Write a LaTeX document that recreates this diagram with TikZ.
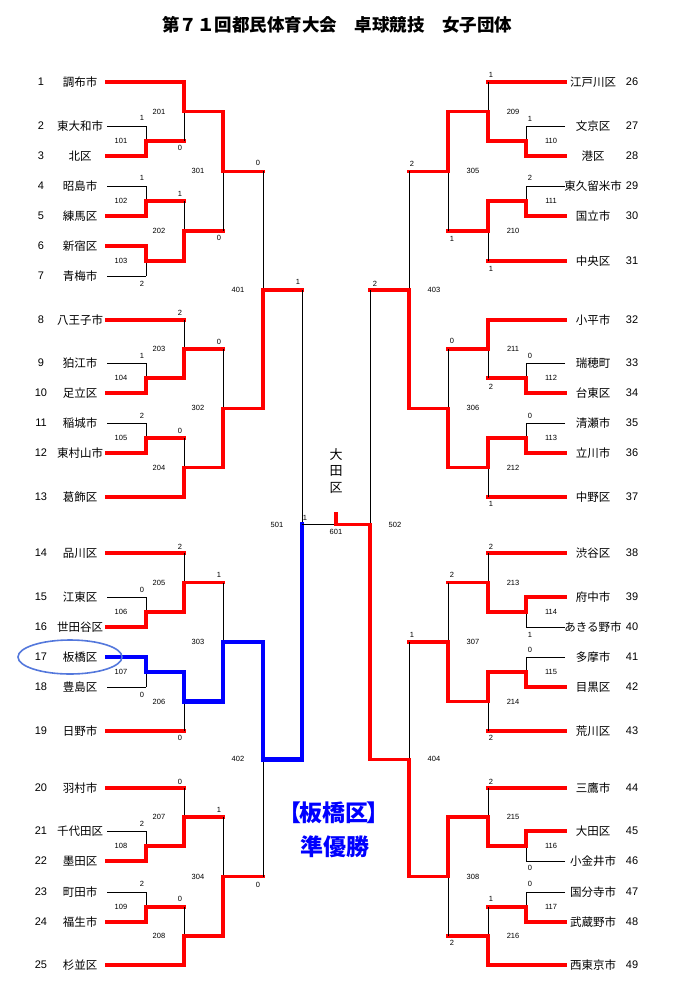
\documentclass[tikz,border=0pt]{standalone}
\usepackage{fontspec}
\setmainfont{Liberation Sans}
\newfontfamily\jpfont{Noto Sans CJK JP}
\usetikzlibrary{shapes.geometric}
\definecolor{ringblue}{RGB}{84,120,220}
\tikzstyle{win}=[draw=red,line width=3.5pt,line cap=rect]
\tikzstyle{lose}=[draw=black,line width=0.8pt]
\tikzstyle{itabashi}=[draw=blue,line width=4.5pt,line cap=rect]
\tikzstyle{team}=[font=\jpfont\fontsize{11.5}{13}\selectfont,inner sep=0pt]
\tikzstyle{num}=[font=\fontsize{11}{13}\selectfont,inner sep=0pt]
\tikzstyle{score}=[font=\fontsize{7.5}{9}\selectfont,inner sep=0pt]
\tikzstyle{banner}=[text=blue,font=\jpfont\bfseries\fontsize{23}{26}\selectfont,inner sep=0pt]

\begin{document}
\begin{tikzpicture}[x=1pt,y=-1pt]
  \useasboundingbox (0,0) rectangle (679,985);
  \def\lone{146}\def\ltwo{184}\def\lthree{223}\def\lfour{263}\def\lfive{302}
  \def\rone{526}\def\rtwo{488}\def\rthree{448}\def\rfour{409}\def\rfive{370}

  \node[font=\jpfont\bfseries\fontsize{17.5}{20}\selectfont] (title) at (337,25)
    {第７１回都民体育大会　卓球競技　女子団体};

  % teams, left half
  \foreach \i/\y/\s in {1/82/調布市, 2/126/東大和市, 3/156/北区, 4/186/昭島市,
      5/216/練馬区, 6/246/新宿区, 7/276/青梅市, 8/320/八王子市, 9/363/狛江市,
      10/393/足立区, 11/423/稲城市, 12/453/東村山市, 13/497/葛飾区,
      14/553/品川区, 15/597/江東区, 16/627/世田谷区, 17/657/板橋区,
      18/687/豊島区, 19/731/日野市, 20/788/羽村市, 21/831/千代田区,
      22/861/墨田区, 23/892/町田市, 24/922/福生市, 25/965/杉並区} {
    \node[num] (k\i) at (41,\y) {\i};
    \node[team] (n\i) at (80,\y) {\s};
    \coordinate (t\i) at (107,\y);
  }
  % teams, right half
  \foreach \i/\y/\s in {26/82/江戸川区, 27/126/文京区, 28/156/港区,
      29/186/東久留米市, 30/216/国立市, 31/261/中央区, 32/320/小平市,
      33/363/瑞穂町, 34/393/台東区, 35/423/清瀬市, 36/453/立川市,
      37/497/中野区, 38/553/渋谷区, 39/597/府中市, 40/627/あきる野市,
      41/657/多摩市, 42/687/目黒区, 43/731/荒川区, 44/788/三鷹市,
      45/831/大田区, 46/861/小金井市, 47/892/国分寺市, 48/922/武蔵野市,
      49/965/西東京市} {
    \node[num] (k\i) at (632,\y) {\i};
    \node[team] (n\i) at (593,\y) {\s};
    \coordinate (t\i) at (565,\y);
  }

  % match points
  \foreach \n/\x/\y in {101/\lone/141, 102/\lone/201, 103/\lone/261,
      104/\lone/378, 105/\lone/438, 106/\lone/612, 107/\lone/672,
      108/\lone/846, 109/\lone/907, 201/\ltwo/111.5, 202/\ltwo/231,
      203/\ltwo/349, 204/\ltwo/467.5, 205/\ltwo/582.5, 206/\ltwo/701.5,
      207/\ltwo/817, 208/\ltwo/936, 301/\lthree/171.25, 302/\lthree/408.25,
      303/\lthree/642, 304/\lthree/876.5, 401/\lfour/289.75,
      402/\lfour/759.25, 501/\lfive/524.5} {
    \coordinate (m\n) at (\x,\y);
    \node[score] (l\n) at (\x-25,\y) {\n};
  }
  \foreach \n/\x/\y in {110/\rone/141, 111/\rone/201, 112/\rone/378,
      113/\rone/438, 114/\rone/612, 115/\rone/672, 116/\rone/846,
      117/\rone/907, 209/\rtwo/111.5, 210/\rtwo/231, 211/\rtwo/349,
      212/\rtwo/467.5, 213/\rtwo/582.5, 214/\rtwo/701.5, 215/\rtwo/817,
      216/\rtwo/936, 305/\rthree/171.25, 306/\rthree/408.25,
      307/\rthree/642, 308/\rthree/876.5, 403/\rfour/289.75,
      404/\rfour/759.25, 502/\rfive/524.5} {
    \coordinate (m\n) at (\x,\y);
    \node[score] (l\n) at (\x+25,\y) {\n};
  }
  \coordinate (m601) at (336,524.5);
  \coordinate (crown) at (336,512);
  \node[score] (l601) at (336,532) {601};

  % bracket lines: source / match / horizontal / vertical
  \foreach \a/\b/\h/\v in {t2/m101/lose/lose, t3/m101/win/win,
      t4/m102/lose/lose, t5/m102/win/win, t7/m103/lose/lose, t6/m103/win/win,
      t9/m104/lose/lose, t10/m104/win/win, t11/m105/lose/lose,
      t12/m105/win/win, t15/m106/lose/lose, t16/m106/win/win,
      t18/m107/lose/lose, t17/m107/itabashi/itabashi, t21/m108/lose/lose,
      t22/m108/win/win, t23/m109/lose/lose, t24/m109/win/win,
      m101/m201/win/lose, t1/m201/win/win, m102/m202/win/lose,
      m103/m202/win/win, t8/m203/win/lose, m104/m203/win/win,
      m105/m204/win/lose, t13/m204/win/win, t14/m205/win/lose,
      m106/m205/win/win, t19/m206/win/lose, m107/m206/itabashi/itabashi,
      t20/m207/win/lose, m108/m207/win/win, m109/m208/win/lose,
      t25/m208/win/win, m202/m301/win/lose, m201/m301/win/win,
      m203/m302/win/lose, m204/m302/win/win, m205/m303/win/lose,
      m206/m303/itabashi/itabashi, m207/m304/win/lose, m208/m304/win/win,
      m301/m401/win/lose, m302/m401/win/win, m304/m402/win/lose,
      m303/m402/itabashi/itabashi, m401/m501/win/lose,
      m402/m501/itabashi/itabashi} {
    \draw[\h] (\a) -- (\a -| \b);
    \draw[\v] (\a -| \b) -- (\b);
  }
  \foreach \a/\b/\h/\v in {t27/m110/lose/lose, t28/m110/win/win,
      t29/m111/lose/lose, t30/m111/win/win, t33/m112/lose/lose,
      t34/m112/win/win, t35/m113/lose/lose, t36/m113/win/win,
      t40/m114/lose/lose, t39/m114/win/win, t41/m115/lose/lose,
      t42/m115/win/win, t46/m116/lose/lose, t45/m116/win/win,
      t47/m117/lose/lose, t48/m117/win/win,
      t26/m209/win/lose, m110/m209/win/win, t31/m210/win/lose,
      m111/m210/win/win, m112/m211/win/lose, t32/m211/win/win,
      t37/m212/win/lose, m113/m212/win/win, t38/m213/win/lose,
      m114/m213/win/win, t43/m214/win/lose, m115/m214/win/win,
      t44/m215/win/lose, m116/m215/win/win, m117/m216/win/lose,
      t49/m216/win/win, m210/m305/win/lose, m209/m305/win/win,
      m211/m306/win/lose, m212/m306/win/win, m213/m307/win/lose,
      m214/m307/win/win, m216/m308/win/lose, m215/m308/win/win,
      m305/m403/win/lose, m306/m403/win/win, m307/m404/win/lose,
      m308/m404/win/win, m403/m502/win/lose, m404/m502/win/win} {
    \draw[\h] (\a) -- (\a -| \b);
    \draw[\v] (\a -| \b) -- (\b);
  }
  \draw[lose] (m501) -- (m601);
  \draw[win,line cap=butt] (m502) -- (m601) -- (crown);

  % scores
  \foreach \x/\y/\s [count=\i] in {142/118/1, 180/148/0, 142/178/1,
      180/194/1, 142/284/2, 219/238/0, 258/163/0, 298/282/1, 180/313/2,
      142/356/1, 219/342/0, 142/416/2, 180/431/0, 180/547/2, 142/590/0,
      219/575/1, 142/695/0, 180/738/0, 180/782/0, 142/824/2, 219/810/1,
      258/885/0, 142/884/2, 180/899/0, 305/518/1,
      491/75/1, 530/119/1, 530/178/2, 491/269/1, 412/164/2, 452/239/1,
      375/284/2, 491/387/2, 530/356/0, 452/341/0, 530/416/0, 491/504/1,
      491/547/2, 452/575/2, 530/635/1, 412/635/1, 530/650/0, 491/738/2,
      491/782/2, 530/868/0, 452/943/2, 530/884/0, 491/899/1} {
    \node[score] (s\i) at (\x,\y) {\s};
  }

  \node[team,align=center,font=\jpfont\fontsize{13}{16.5}\selectfont]
    (champion) at (336,471) {大\\田\\区};
  \node[ellipse,draw=ringblue,line width=1.6pt,minimum width=104pt,
    minimum height=34pt] (ring) at (70,657) {};
  \node[banner] (runner) at (334,813)
    {\kern-0.45em【\kern-0.1em板橋区\kern-0.1em】\kern-0.45em};
  \node[banner] (second) at (335,847) {準優勝};
\end{tikzpicture}
\end{document}
